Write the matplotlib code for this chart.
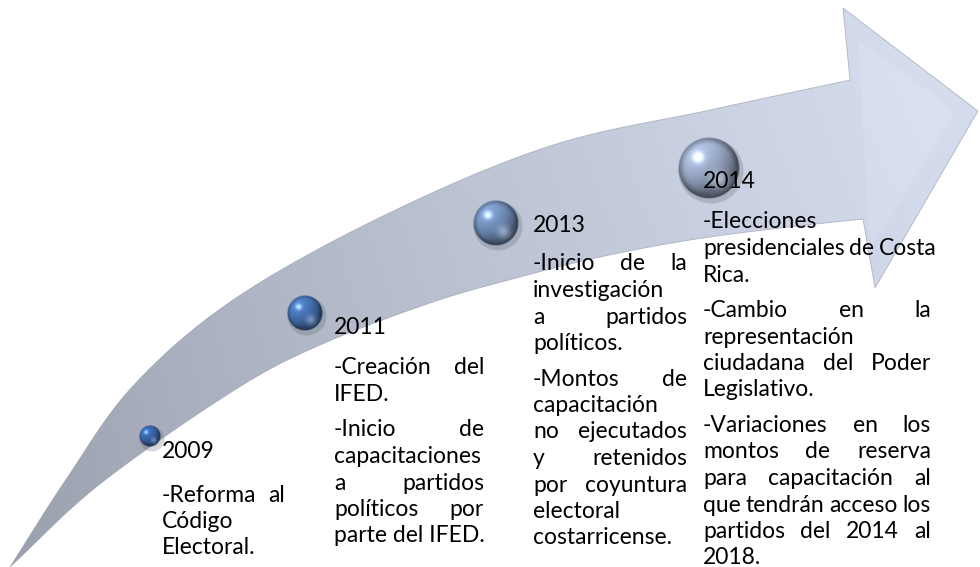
import numpy as np
import matplotlib
matplotlib.use('Agg')
import matplotlib.pyplot as plt
from matplotlib.path import Path
from matplotlib.patches import PathPatch, Circle

# Datos de la línea de tiempo
years = ['2009', '2011', '2013', '2014']
textos = [
    [['-Reforma al', 'Código', 'Electoral.']],
    [['-Creación del', 'IFED.'],
     ['-Inicio de', 'capacitaciones', 'a partidos', 'políticos por', 'parte del IFED.']],
    [['-Inicio de la', 'investigación', 'a partidos', 'políticos.'],
     ['-Montos de', 'capacitación', 'no ejecutados', 'y retenidos', 'por coyuntura',
      'electoral', 'costarricense.']],
    [['-Elecciones', 'presidenciales de Costa', 'Rica.'],
     ['-Cambio en la', 'representación', 'ciudadana del Poder', 'Legislativo.'],
     ['-Variaciones en los', 'montos de reserva', 'para capacitación al',
      'que tendrán acceso los', 'partidos del 2014 al', '2018.']],
]

# Posiciones (en píxeles de la imagen)
ball_xy = [(150, 436), (305, 313), (496, 223), (709, 168)]
ball_r = [11, 18, 23, 31]
ball_rgb = [(58, 106, 178), (74, 120, 188), (120, 150, 196), (162, 178, 208)]
col_x = [162, 334, 533, 703]
col_w = [123, 150, 154, 228]
head_y = [452, 328, 225, 182]
first_off = [43, 40, 39, 40]

W, H = 980, 567
fuente = ['Lato', 'DejaVu Sans']
tam = 16.5
interlineado = 26.5
sep_parrafo = 9


def suave(pts, n=30):
    # curva Catmull-Rom por los puntos
    pts = np.array(pts, float)
    p = np.vstack([2 * pts[0] - pts[1], pts, 2 * pts[-1] - pts[-2]])
    out = []
    t = np.linspace(0, 1, n, endpoint=False)[:, None]
    for i in range(1, len(p) - 2):
        p0, p1, p2, p3 = p[i - 1], p[i], p[i + 1], p[i + 2]
        out.append(0.5 * ((2 * p1) + (-p0 + p2) * t + (2 * p0 - 5 * p1 + 4 * p2 - p3) * t ** 2
                          + (-p0 + 3 * p1 - 3 * p2 + p3) * t ** 3))
    out.append(p[-2][None])
    return np.vstack(out)


fig = plt.figure(figsize=(W / 100, H / 100), dpi=100, facecolor='white')
ax = fig.add_axes([0, 0, 1, 1])
ax.set_xlim(0, W)
ax.set_ylim(H, 0)
ax.axis('off')

# Flecha curva
borde_sup = [(10, 567), (67, 478), (133, 386), (233, 300), (383, 216), (550, 146),
             (710, 110), (850, 80)]
borde_inf = [(10, 567), (100, 484), (233, 391), (320, 345), (433, 302), (520, 277),
             (600, 257), (690, 240), (780, 228), (863, 219)]
sup = suave(borde_sup)
inf = suave(borde_inf)[::-1]
cabeza = np.array([(843, 8), (978, 111), (875, 288)])
contorno = np.vstack([sup, cabeza, inf])
flecha = PathPatch(Path(contorno, closed=True), facecolor='none',
                   edgecolor=(0.6, 0.62, 0.68), lw=0.6, alpha=0.7, zorder=2)
ax.add_patch(flecha)

xs = np.linspace(0, 1, W)
ys = np.linspace(0, 1, H)
gx, gy = np.meshgrid(xs, ys)
c0 = np.array([160, 166, 180]) / 255
c1 = np.array([214, 222, 240]) / 255
f = np.clip(gx ** 0.8 * 1.05, 0, 1)
img = c0 + (c1 - c0) * f[..., None]
img = img * (1 - 0.05 * gy[..., None])
im = ax.imshow(np.clip(img, 0, 1), extent=(0, W, H, 0), origin='upper', zorder=1,
               interpolation='bilinear')
im.set_clip_path(flecha)

# brillo en la punta
bisel = PathPatch(Path([(858, 40), (955, 111), (870, 250), (870, 120)], closed=True),
                  facecolor='white', edgecolor='none', alpha=0.12, zorder=1.5)
ax.add_patch(bisel)

# Esferas
for (bx, by), r, rgb in zip(ball_xy, ball_r, ball_rgb):
    ax.add_patch(Circle((bx + 2, by + 3), r + 1.5, color=(0.35, 0.37, 0.42), alpha=0.25,
                        lw=0, zorder=3))
    n = 120
    u, v = np.meshgrid(np.linspace(-1, 1, n), np.linspace(-1, 1, n))
    d = np.sqrt(u ** 2 + v ** 2)
    z = np.sqrt(np.clip(1 - d ** 2, 0, 1))
    luz = np.array([-0.45, -0.55, 0.7])
    luz = luz / np.linalg.norm(luz)
    lam = np.clip(u * luz[0] + v * luz[1] + z * luz[2], 0, 1)
    base = np.array(rgb) / 255
    col = base[None, None, :] * (0.55 + 0.55 * lam[..., None])
    aro = np.clip((d - 0.78) / 0.22, 0, 1)
    col = col * (1 - 0.3 * aro[..., None])
    refl = np.exp(-((u - 0.35) ** 2 + (v - 0.4) ** 2) / 0.08) * (d < 0.9)
    col = col + 0.25 * refl[..., None]
    spec = np.exp(-((u + 0.35) ** 2 + (v + 0.35) ** 2) / 0.03)
    col = col + 0.45 * spec[..., None]
    alfa = np.clip((1 - d) * r, 0, 1)
    rgba = np.dstack([np.clip(col, 0, 1), alfa])
    ax.imshow(rgba, extent=(bx - r, bx + r, by + r, by - r), origin='upper', zorder=4,
              interpolation='bilinear')

# Textos
fig.canvas.draw()
rend = fig.canvas.get_renderer()


def ancho(s):
    t = ax.text(0, 0, s, fontsize=tam, family=fuente)
    w = t.get_window_extent(renderer=rend).width
    t.remove()
    return w


espacio = ancho('a a') - ancho('aa')

for year, parrafos, x0, w, hy, off in zip(years, textos, col_x, col_w, head_y, first_off):
    ax.text(x0, hy, year, fontsize=tam, family=fuente, ha='left', va='center', zorder=6)
    y = hy + off
    for parrafo in parrafos:
        for k, linea in enumerate(parrafo):
            palabras = linea.split(' ')
            ultima = k == len(parrafo) - 1
            if ultima or len(palabras) == 1:
                ax.text(x0, y, linea, fontsize=tam, family=fuente, ha='left', va='center',
                        zorder=6)
            else:
                # texto justificado
                anchos = [ancho(p) for p in palabras]
                hueco = max((w - sum(anchos)) / (len(palabras) - 1), espacio * 0.8)
                xp = x0
                for p, a in zip(palabras, anchos):
                    ax.text(xp, y, p, fontsize=tam, family=fuente, ha='left', va='center',
                            zorder=6)
                    xp += a + hueco
            y += interlineado
        y += sep_parrafo

fig.savefig('out.png', dpi=100, facecolor='white')
plt.close(fig)
